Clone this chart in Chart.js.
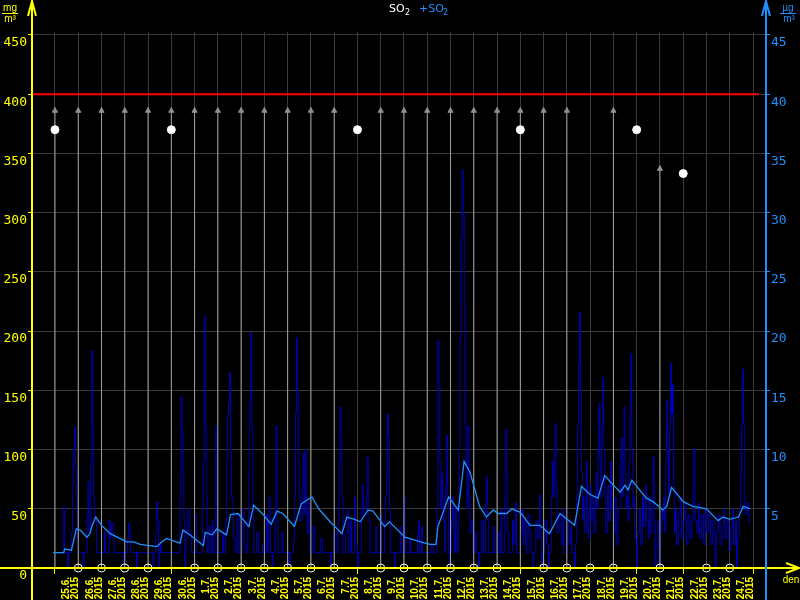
<!DOCTYPE html>
<html>
<head>
<meta charset="utf-8">
<script src="https://cdn.jsdelivr.net/npm/chart.js@4/dist/chart.umd.min.js"></script>
<style>
html, body { margin: 0; padding: 0; background: #000; }
#chart { display: block; }
</style>
</head>
<body>
<canvas id="chart" width="800" height="600"></canvas>
<script>
// hourly SO2, hours counted from 25.6.2015 00:00
const so2Hours = [
  -2, 8, 9, 10, 13, 14, 17, 18, 19, 20, 21, 22, 23,
  24, 29, 30, 33, 34, 35, 37, 38, 39, 40, 41, 43,
  51, 52, 56, 57, 58, 60, 61, 71,
  72, 75, 76, 77, 78, 84, 85,
  101, 102, 104, 105, 106, 107, 108, 109, 110,
  129, 130, 131, 132, 133, 134, 135, 137, 139, 141,
  144, 146, 152, 153, 154, 155, 156, 157, 158, 160, 162, 163, 166, 167,
  168, 173, 174, 176, 177, 178, 179, 180, 181, 182, 184, 186, 188, 190,
  193, 195, 197, 199, 200, 201, 202, 203, 204, 205, 208, 210, 214,
  216, 218, 219, 220, 221, 222, 224, 225, 227, 228, 229, 230, 234, 235,
  242, 243, 246, 247, 248, 249, 250, 251, 252, 253, 255, 256, 257, 258, 259, 260, 262, 263,
  266, 268, 274, 276, 284, 285,
  288, 290, 292, 293, 294, 295, 296, 297, 300, 302, 303, 305, 306, 309, 310,
  312, 313, 316, 317, 318, 321, 322, 323, 325, 331, 332,
  336, 337, 340, 341, 342, 343, 344, 345, 346, 350, 351, 356, 357,
  360, 361, 362, 366, 367, 374, 375, 376, 378, 379,
  388, 390, 394, 395, 396, 397, 398, 399, 400, 401, 402, 403, 404, 405, 406,
  407, 408, 409, 410, 411, 412, 413, 414, 415, 416, 417, 418, 419, 420, 421, 422, 423, 424, 425, 426, 427, 428, 430, 431,
  434, 435, 437, 438, 440, 442, 444, 445, 446, 447, 452, 453, 456, 458, 460, 461, 464, 465, 466, 467, 468, 472, 473, 475, 476,
  480, 482, 483, 485, 486, 488, 490, 491, 493, 494, 496, 498, 500, 501, 502, 503,
  505, 507, 509, 510, 512, 513, 514, 515, 516, 517, 518, 520, 522, 524, 525,
  528, 530, 532, 533, 536, 537, 538, 539, 540, 541, 542, 543, 544, 545, 546, 548, 549, 550,
  552, 553, 555, 556, 558, 559, 560, 561, 562, 563, 564, 565, 566, 567, 568, 570, 571, 573, 574,
  576, 578, 579, 581, 583, 584, 585, 586, 587, 588, 589, 590, 591, 592, 593, 594, 595, 596, 597, 598,
  600, 601, 603, 604, 606, 607, 609, 610, 612, 613, 614, 616, 617, 618, 619, 620, 622, 623,
  624, 626, 627, 628, 629, 630, 631, 632, 633, 634, 635, 636, 637, 638, 639, 640, 641, 643, 645, 646,
  648, 650, 651, 653, 655, 657, 658, 659, 660, 662, 664, 665, 667, 669, 671,
  672, 674, 676, 678, 680, 681, 682, 684, 686, 688, 690, 691, 693, 695,
  697, 699, 700, 702, 703, 704, 706, 707, 708, 709, 710, 711, 712, 714, 716, 717
];
const so2Values = [
  13, 13, 52, 13, 0, 13, 30, 70, 100, 119, 85, 60, 25,
  13, 0, 13, 45, 73, 30, 90, 184, 120, 60, 40, 13,
  30, 13, 40, 25, 38, 30, 13, 0,
  13, 25, 38, 30, 13, 0, 13,
  0, 13, 30, 56, 40, 0, 13, 20, 13,
  60, 145, 118, 80, 40, 0, 25, 50, 30, 13,
  45, 13, 50, 90, 213, 120, 60, 13, 35, 13, 40, 13, 120, 30,
  13, 30, 13, 40, 90, 130, 140, 165, 100, 60, 25, 13, 45, 13,
  50, 20, 13, 40, 80, 140, 199, 120, 50, 13, 30, 13, 20,
  13, 45, 13, 40, 60, 13, 0, 13, 50, 120, 40, 13, 30, 13,
  0, 13, 25, 60, 130, 194, 150, 90, 60, 40, 70, 97, 45, 100, 60, 30, 55, 13,
  35, 13, 25, 13, 0, 13,
  30, 13, 40, 90, 136, 110, 60, 13, 30, 50, 13, 40, 13, 60, 20,
  0, 13, 50, 70, 45, 60, 94, 40, 13, 35, 13,
  45, 13, 40, 60, 80, 130, 110, 50, 13, 0, 13, 35, 13,
  60, 25, 13, 25, 13, 30, 40, 13, 35, 13,
  20, 13, 50, 192, 156, 90, 50, 80, 60, 40, 13, 70, 112, 60, 13,
  0, 13, 40, 60, 30, 13, 50, 30, 13, 40, 100, 195, 280, 336, 300, 223, 120, 80, 50, 120, 60, 30, 40, 13,
  30, 13, 0, 13, 40, 13, 55, 77, 45, 13, 35, 13, 30, 13, 50, 13, 60, 117, 80, 30, 13, 40, 20, 55, 13,
  30, 50, 20, 40, 13, 45, 30, 13, 0, 13, 40, 25, 62, 30, 0, 13,
  40, 20, 0, 13, 60, 90, 60, 100, 122, 70, 30, 45, 20, 50, 13,
  40, 20, 35, 13, 0, 20, 60, 120, 173, 216, 150, 80, 40, 60, 30, 90, 50, 25,
  70, 40, 60, 30, 80, 50, 100, 139, 90, 60, 120, 161, 100, 60, 30, 70, 40, 90, 50,
  30, 60, 20, 50, 90, 110, 60, 100, 136, 80, 50, 60, 40, 90, 130, 181, 100, 50, 60, 25,
  0, 30, 50, 20, 60, 35, 70, 40, 25, 60, 30, 50, 94, 40, 0, 20, 40, 0,
  30, 50, 40, 60, 30, 90, 142, 100, 60, 120, 173, 130, 155, 70, 30, 50, 20, 45, 60, 25,
  40, 55, 20, 45, 25, 40, 70, 101, 40, 30, 55, 25, 45, 20, 50,
  30, 45, 20, 40, 25, 0, 30, 45, 20, 35, 50, 25, 40, 15,
  35, 50, 20, 40, 0, 25, 50, 80, 120, 168, 122, 60, 45, 55, 38, 38
];

// running average
const avgHours = [
  -2, 9, 10, 17, 22, 26, 33, 36, 38, 42, 48, 57, 74, 81, 88, 105, 110, 115, 129, 132,
  139, 153, 155, 162, 167, 177, 181, 189, 200, 205, 215, 223, 229, 235, 247, 254, 265, 272, 285, 296,
  301, 309, 315, 323, 328, 340, 345, 361, 377, 387, 393, 395, 406, 416, 422, 428, 438, 445, 452, 457,
  466, 471, 480, 490, 500, 510, 521, 536, 543, 552, 560, 567, 576, 583, 588, 591, 595, 610, 617, 627,
  631, 636, 648, 658, 672, 684, 689, 696, 705, 710, 717
];
const avgValues = [
  13, 13, 16, 15, 33, 32, 26, 29, 35, 43, 36, 29, 22, 22, 20, 18, 22, 25, 21, 32,
  28, 19, 30, 28, 33, 28, 45, 46, 35, 53, 45, 37, 48, 46, 35, 54, 60, 50, 38, 29,
  43, 41, 39, 49, 48, 35, 39, 26, 22, 20, 20, 35, 60, 49, 90, 81, 52, 43, 49, 46,
  46, 50, 47, 36, 36, 29, 46, 36, 69, 62, 59, 78, 70, 64, 70, 66, 74, 59, 56, 49,
  52, 68, 56, 52, 50, 40, 43, 41, 43, 52, 50
];

const dayLabels = ['25.6.', '26.6.', '27.6.', '28.6.', '29.6.', '30.6.', '1.7.', '2.7.', '3.7.', '4.7.',
  '5.7.', '6.7.', '7.7.', '8.7.', '9.7.', '10.7.', '11.7.', '12.7.', '13.7.', '14.7.',
  '15.7.', '16.7.', '17.7.', '18.7.', '19.7.', '20.7.', '21.7.', '22.7.', '23.7.', '24.7.'];
const yearLabel = '2015';
const leftTicks = [0, 50, 100, 150, 200, 250, 300, 350, 400, 450];
const rightTicks = [5, 10, 15, 20, 25, 30, 35, 40, 45];

// daily markers
const arrowDays = [0, 1, 2, 3, 4, 5, 6, 7, 8, 9, 10, 11, 12, 14, 15, 16, 17, 18, 19, 20, 21, 22, 24, 26];
const arrowTops = [389, 389, 389, 389, 389, 389, 389, 389, 389, 389, 389, 389, 389,
  389, 389, 389, 389, 389, 389, 389, 389, 389, 389, 340];
const dotDays = [0, 5, 13, 20, 25, 27];
const dotValues = [370, 370, 370, 370, 370, 333];
const circleDays = [1, 2, 3, 4, 6, 7, 8, 9, 10, 11, 12, 14, 15, 16, 17, 18, 19, 21, 22, 23, 24, 26, 28, 29];
const tickDays = [0, 5, 13, 20, 25, 27, 30];
const limitValue = 400;

const YELLOW = '#ffff00';
const BLUE = '#1e90ff';
const X_MIN = -23.7, X_MAX = 733.4, LIMIT_END = 726;
const Y_MAX = 452.5;

const decor = {
  id: 'decor',
  afterDraw(chart) {
    const { ctx, scales: { x, y, y2 } } = chart;
    const ax = y.right, bx = y2.left, y0 = y.getPixelForValue(0);
    ctx.save();
    ctx.lineWidth = 2;
    // x axis with arrow
    ctx.strokeStyle = YELLOW;
    ctx.beginPath();
    ctx.moveTo(0, y0); ctx.lineTo(798, y0);
    ctx.moveTo(786, y0 - 5); ctx.lineTo(799, y0); ctx.lineTo(786, y0 + 5);
    ctx.stroke();
    // left axis
    ctx.beginPath();
    ctx.moveTo(ax, 600); ctx.lineTo(ax, 1);
    ctx.moveTo(ax - 4, 16); ctx.lineTo(ax, 1); ctx.lineTo(ax + 4, 16);
    ctx.stroke();
    // right axis
    ctx.strokeStyle = BLUE;
    ctx.beginPath();
    ctx.moveTo(bx, 600); ctx.lineTo(bx, 1);
    ctx.moveTo(bx - 4, 16); ctx.lineTo(bx, 1); ctx.lineTo(bx + 4, 16);
    ctx.stroke();

    // units
    ctx.font = '10px "Liberation Sans"';
    ctx.textAlign = 'center';
    ctx.textBaseline = 'middle';
    ctx.fillStyle = YELLOW;
    ctx.fillText('mg', 10, 8);
    ctx.fillRect(2, 13, 16, 1);
    ctx.fillText('m³', 10, 19);
    ctx.fillText('den', 791, 580);
    ctx.fillStyle = BLUE;
    ctx.fillText('µg', 788, 8);
    ctx.fillRect(780, 13, 16, 1);
    ctx.fillText('m³', 789, 19);

    // title
    ctx.font = '11px "DejaVu Sans"';
    ctx.textAlign = 'left';
    ctx.fillStyle = '#ffffff';
    ctx.fillText('SO', 389, 9);
    ctx.font = '8px "DejaVu Sans"';
    ctx.fillText('2', 405, 13);
    ctx.font = '11px "DejaVu Sans"';
    ctx.fillStyle = BLUE;
    ctx.fillText('+SO', 419, 9);
    ctx.font = '8px "DejaVu Sans"';
    ctx.fillText('2', 443, 13);
    ctx.restore();
  }
};

const so2Data = so2Hours.map((h, i) => ({ x: h, y: so2Values[i] }));
const avgData = avgHours.map((h, i) => ({ x: h, y: avgValues[i] }));
const arrowLines = arrowDays.flatMap((d, i) => [
  { x: d * 24, y: 0 }, { x: d * 24, y: arrowTops[i] }, { x: d * 24, y: null }
]);
const arrowHeads = arrowDays.map((d, i) => ({ x: d * 24, y: arrowTops[i] - 3 }));
const dots = dotDays.map((d, i) => ({ x: d * 24, y: dotValues[i] }));
const circles = circleDays.map(d => ({ x: d * 24, y: 0 }));

new Chart(document.getElementById('chart'), {
  type: 'line',
  data: {
    datasets: [
      {
        label: 'SO2', data: so2Data, borderColor: '#0000b0', borderWidth: 1,
        pointRadius: 0, stepped: 'before', order: 6
      },
      {
        label: 'arrows', data: arrowLines, borderColor: '#a0a0a0', borderWidth: 1,
        pointRadius: 0, spanGaps: false, order: 5
      },
      {
        label: '+SO2', data: avgData, borderColor: BLUE, borderWidth: 1.3,
        pointRadius: 0, order: 4
      },
      {
        label: 'limit', data: [{ x: X_MIN, y: limitValue }, { x: LIMIT_END, y: limitValue }],
        borderColor: '#ff0000', borderWidth: 2, pointRadius: 0, order: 3
      },
      {
        label: 'heads', data: arrowHeads, showLine: false, pointStyle: 'triangle',
        pointRadius: 3, backgroundColor: '#909090', borderColor: '#909090', borderWidth: 1, order: 2
      },
      {
        label: 'dots', data: dots, showLine: false, pointRadius: 4,
        backgroundColor: '#ffffff', borderColor: '#ffffff', order: 1
      },
      {
        label: 'circles', data: circles, showLine: false, pointRadius: 4, clip: false,
        backgroundColor: 'rgba(0,0,0,0)', borderColor: '#ffffdd', borderWidth: 1, order: 0
      }
    ]
  },
  options: {
    responsive: false,
    animation: false,
    devicePixelRatio: 1,
    layout: { padding: { top: 32, left: 0, right: 0, bottom: 0 } },
    plugins: { legend: { display: false }, tooltip: { enabled: false } },
    scales: {
      x: {
        type: 'linear', min: X_MIN, max: X_MAX,
        afterBuildTicks: s => {
          const t = [];
          for (let d = 0; d <= 30; d++) {
            t.push({ value: d * 24 });
            if (d < 30) t.push({ value: d * 24 + 12 });
          }
          s.ticks = t;
        },
        afterFit: s => { s.height = 32; },
        border: { display: false },
        grid: {
          color: c => (c.tick && c.tick.value % 24 === 0) ? '#3a3a3a' : 'rgba(0,0,0,0)',
          tickColor: c => (c.tick && c.tick.value % 24 === 0 && tickDays.includes(c.tick.value / 24)) ? YELLOW : 'rgba(0,0,0,0)',
          tickLength: 6, lineWidth: 1
        },
        ticks: {
          autoSkip: false, minRotation: 90, maxRotation: 90, padding: 3,
          color: YELLOW,
          font: { family: 'Liberation Sans', size: 10, weight: 'bold', lineHeight: 0.9 },
          callback: v => (v % 24 === 12) ? [dayLabels[(v - 12) / 24], yearLabel] : ''
        }
      },
      y: {
        position: 'left', min: 0, max: Y_MAX,
        afterBuildTicks: s => { s.ticks = leftTicks.map(v => ({ value: v })); },
        afterFit: s => { s.width = 32; },
        border: { display: false },
        grid: { color: '#3a3a3a', tickColor: YELLOW, tickLength: 4 },
        ticks: {
          color: YELLOW, padding: 1, labelOffset: 8,
          font: { family: 'DejaVu Sans Mono', size: 13 }
        }
      },
      y2: {
        position: 'right', min: 0, max: Y_MAX / 10,
        afterBuildTicks: s => { s.ticks = rightTicks.map(v => ({ value: v })); },
        afterFit: s => { s.width = 34; },
        border: { display: false },
        grid: { drawOnChartArea: false, tickColor: BLUE, tickLength: 4 },
        ticks: {
          color: BLUE, padding: 1, labelOffset: 8,
          font: { family: 'DejaVu Sans Mono', size: 13 }
        }
      }
    }
  },
  plugins: [decor]
});
</script>
</body>
</html>
